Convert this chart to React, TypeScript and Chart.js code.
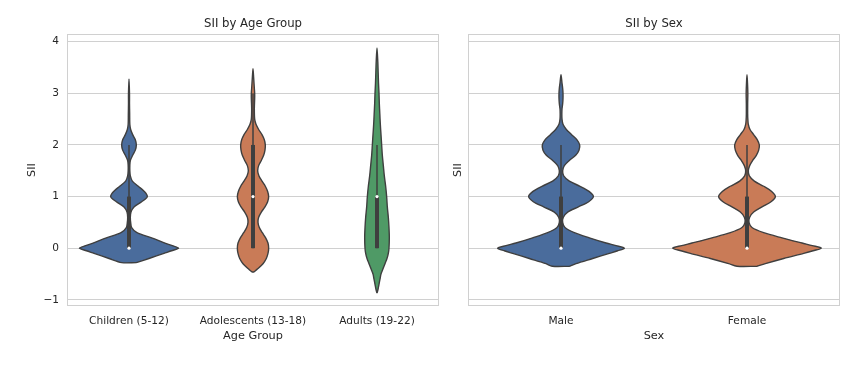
import React, { useEffect, useRef } from "react";
import { Chart, registerables } from "chart.js";
Chart.register(...registerables);

// ---------- data ----------
const ageGroups = ["Children (5-12)", "Adolescents (13-18)", "Adults (19-22)"];
const sexes = ["Male", "Female"];
const yTicks = [-1, 0, 1, 2, 3, 4];
const yTickLabels = ["−1", "0", "1", "2", "3", "4"];

// violin density profiles (SII value -> relative density)
const childrenY = [-0.28, -0.2, -0.1, -0.05, 0, 0.05, 0.1, 0.2, 0.3, 0.4, 0.5, 0.6, 0.7, 0.8, 0.9, 1.0, 1.1, 1.2, 1.3, 1.4, 1.5, 1.6, 1.7, 1.8, 1.9, 2.0, 2.1, 2.2, 2.3, 2.4, 2.6, 2.8, 3.0, 3.28];
const childrenW = [22, 60, 105, 128, 149, 130, 108, 68, 24, 8, 5, 4, 6, 15, 38, 55, 46, 28, 10, 4, 2.5, 2.5, 4, 11, 19, 22, 19, 11, 5, 2.5, 2, 1.5, 1.5, 0];

const adolescentsY = [-0.46, -0.4, -0.3, -0.2, -0.1, 0, 0.1, 0.2, 0.3, 0.4, 0.5, 0.6, 0.7, 0.8, 0.9, 1.0, 1.1, 1.2, 1.3, 1.4, 1.5, 1.6, 1.7, 1.8, 1.9, 2.0, 2.1, 2.2, 2.3, 2.4, 2.5, 2.7, 2.9, 3.0, 3.1, 3.3, 3.48];
const adolescentsW = [3, 14, 30, 40, 45, 47, 45, 38, 28, 19, 15, 17, 25, 36, 44, 47, 44, 37, 27, 18, 14, 17, 25, 32, 36, 37, 34, 27, 17, 9, 5, 4, 5, 5, 4, 2, 0];

const adultsY = [-0.87, -0.8, -0.7, -0.6, -0.5, -0.4, -0.3, -0.2, -0.1, 0, 0.2, 0.4, 0.6, 0.8, 1.0, 1.2, 1.4, 1.6, 1.8, 2.0, 2.2, 2.4, 2.6, 2.8, 3.0, 3.2, 3.4, 3.6, 3.88];
const adultsW = [0, 3, 6, 9, 12, 18, 24, 30, 34, 36, 37, 36, 34, 31, 29, 26, 22, 19, 16, 14, 12, 10, 8.5, 7, 6, 4.5, 3.5, 2.5, 0];

const maleY = [-0.35, -0.3, -0.2, -0.1, -0.05, 0, 0.05, 0.1, 0.2, 0.3, 0.4, 0.5, 0.6, 0.7, 0.8, 0.9, 1.0, 1.1, 1.2, 1.3, 1.4, 1.5, 1.6, 1.7, 1.8, 1.9, 2.0, 2.1, 2.2, 2.3, 2.4, 2.5, 2.6, 2.7, 2.8, 2.9, 3.0, 3.1, 3.2, 3.36];
const maleW = [26, 45, 95, 145, 170, 190, 165, 135, 85, 40, 12, 5, 7, 20, 52, 83, 97, 84, 57, 25, 8, 5, 10, 25, 44, 54, 56, 48, 32, 16, 6, 3, 2.5, 3, 5, 6, 6, 5, 3, 0];

const femaleY = [-0.35, -0.3, -0.2, -0.1, -0.05, 0, 0.05, 0.1, 0.2, 0.3, 0.4, 0.5, 0.6, 0.7, 0.8, 0.9, 1.0, 1.1, 1.2, 1.3, 1.4, 1.5, 1.6, 1.7, 1.8, 1.9, 2.0, 2.1, 2.2, 2.3, 2.4, 2.5, 2.6, 2.8, 3.0, 3.2, 3.36];
const femaleW = [30, 55, 110, 170, 198, 223, 196, 165, 105, 50, 15, 6, 8, 20, 45, 72, 85, 74, 50, 22, 7, 4, 8, 17, 28, 35, 37, 31, 20, 9, 4, 2.5, 2, 2, 2.5, 1.5, 0];

// box stats: [whisker low, q1, median, q3, whisker high]
const childrenBox = [0, 0, 0, 1, 2];
const adolescentsBox = [0, 0, 1, 2, 3];
const adultsBox = [0, 0, 1, 1, 2];
const maleBox = [0, 0, 0, 1, 2];
const femaleBox = [0, 0, 0, 1, 2];

// ---------- styles ----------
const BLUE = "#4A6C9C";
const ORANGE = "#C97B57";
const GREEN = "#4F9A66";
const EDGE = "#3f3f3f";
const GRID = "#d0d0d0";
const TEXT = "#262626";
const FONT = "DejaVu Sans";
const MAX_HALF = 0.4;

Chart.defaults.font.family = FONT;

function violinDatasets(center: number, ys: number[], ws: number[], scale: number, color: string, box: number[]) {
  const right = ys.map((y, i) => ({ x: center + ws[i] * scale, y }));
  const left: { x: number; y: number }[] = [];
  for (let i = ys.length - 1; i >= 0; i--) {
    if (i === ys.length - 1 && ws[i] === 0) continue;
    left.push({ x: center - ws[i] * scale, y: ys[i] });
  }
  const outline = [...right, ...left, right[0]];
  return [
    {
      data: outline,
      showLine: true,
      fill: "shape",
      backgroundColor: color,
      borderColor: EDGE,
      borderWidth: 1.4,
      pointRadius: 0,
      tension: 0.3,
      order: 10,
    },
    {
      data: [{ x: center, y: box[0] }, { x: center, y: box[4] }],
      showLine: true,
      borderColor: EDGE,
      borderWidth: 1.5,
      pointRadius: 0,
      order: 3,
    },
    {
      data: [{ x: center, y: box[1] }, { x: center, y: box[3] }],
      showLine: true,
      borderColor: EDGE,
      borderWidth: 4,
      pointRadius: 0,
      order: 2,
    },
    {
      data: [{ x: center, y: box[2] }],
      showLine: false,
      pointRadius: 1.6,
      pointBackgroundColor: "#ffffff",
      pointBorderWidth: 0,
      order: 1,
    },
  ];
}

const framePlugin = {
  id: "frame",
  beforeDatasetsDraw(chart: any) {
    const { ctx, chartArea } = chart;
    ctx.save();
    ctx.strokeStyle = GRID;
    ctx.lineWidth = 1;
    ctx.strokeRect(
      Math.round(chartArea.left) + 0.5,
      Math.round(chartArea.top) + 0.5,
      Math.round(chartArea.right - chartArea.left) - 1,
      Math.round(chartArea.bottom - chartArea.top) - 1
    );
    ctx.restore();
  },
  afterDraw(chart: any, _args: any, opts: any) {
    const { ctx, chartArea } = chart;
    ctx.save();
    ctx.fillStyle = TEXT;
    ctx.font = `11.7px "${FONT}"`;
    ctx.textAlign = "center";
    ctx.textBaseline = "middle";
    ctx.fillText(opts.title, (chartArea.left + chartArea.right) / 2, 24);
    ctx.restore();
  },
};

function makeConfig(
  categories: string[],
  datasets: any[],
  title: string,
  xTitle: string,
  showYTicks: boolean,
  yAxisWidth: number,
  yTitlePad: number,
  rightPad: number
): any {
  return {
    type: "scatter",
    data: { datasets },
    plugins: [framePlugin],
    options: {
      animation: false,
      responsive: false,
      events: [],
      layout: { padding: { top: 34, right: rightPad, bottom: 0, left: 0 } },
      plugins: {
        legend: { display: false },
        tooltip: { enabled: false },
        frame: { title },
      },
      scales: {
        x: {
          type: "linear",
          min: -0.5,
          max: categories.length - 0.5,
          afterBuildTicks: (s: any) => {
            s.ticks = categories.map((_, i) => ({ value: i }));
          },
          afterFit: (s: any) => {
            s.height = 60;
          },
          grid: { display: false, drawTicks: false },
          border: { display: false },
          ticks: {
            autoSkip: false,
            maxRotation: 0,
            padding: 9,
            color: TEXT,
            font: { size: 10.6, family: FONT },
            callback: (v: any) => categories[Math.round(v)],
          },
          title: {
            display: true,
            text: xTitle,
            color: TEXT,
            font: { size: 11.3, family: FONT },
            padding: { top: 0, bottom: 23.2 },
          },
        },
        y: {
          type: "linear",
          min: -1.12,
          max: 4.15,
          afterBuildTicks: (s: any) => {
            s.ticks = yTicks.map((v) => ({ value: v }));
          },
          afterFit: (s: any) => {
            s.width = yAxisWidth;
          },
          grid: { color: GRID, lineWidth: 1, drawTicks: false },
          border: { display: false },
          ticks: {
            display: showYTicks,
            padding: 8,
            color: TEXT,
            font: { size: 10.6, family: FONT },
            callback: (v: any) => yTickLabels[yTicks.indexOf(Math.round(v))],
          },
          title: {
            display: true,
            text: "SII",
            color: TEXT,
            font: { size: 11.3, family: FONT },
            padding: { top: yTitlePad, bottom: 0 },
          },
        },
      },
    },
  };
}

function maxOf(arrs: number[][]) {
  return Math.max(...arrs.map((a) => Math.max(...a)));
}

export default function App() {
  const leftRef = useRef<HTMLCanvasElement>(null);
  const rightRef = useRef<HTMLCanvasElement>(null);

  useEffect(() => {
    const leftScale = MAX_HALF / maxOf([childrenW, adolescentsW, adultsW]);
    const rightScale = MAX_HALF / maxOf([maleW, femaleW]);

    const leftDatasets = [
      ...violinDatasets(0, childrenY, childrenW, leftScale, BLUE, childrenBox),
      ...violinDatasets(1, adolescentsY, adolescentsW, leftScale, ORANGE, adolescentsBox),
      ...violinDatasets(2, adultsY, adultsW, leftScale, GREEN, adultsBox),
    ];
    const rightDatasets = [
      ...violinDatasets(0, maleY, maleW, rightScale, BLUE, maleBox),
      ...violinDatasets(1, femaleY, femaleW, rightScale, ORANGE, femaleBox),
    ];

    const c1 = new Chart(
      leftRef.current!,
      makeConfig(ageGroups, leftDatasets, "SII by Age Group", "Age Group", true, 67, 25.2, 11)
    );
    const c2 = new Chart(
      rightRef.current!,
      makeConfig(sexes, rightDatasets, "SII by Sex", "Sex", false, 28, 11.2, 17)
    );
    return () => {
      c1.destroy();
      c2.destroy();
    };
  }, []);

  return (
    <div style={{ position: "absolute", left: 0, top: 0, width: 857, height: 366, background: "#fff" }}>
      <canvas
        ref={leftRef}
        width={450}
        height={366}
        style={{ position: "absolute", left: 0, top: 0, width: 450, height: 366 }}
      />
      <canvas
        ref={rightRef}
        width={417}
        height={366}
        style={{ position: "absolute", left: 440, top: 0, width: 417, height: 366 }}
      />
    </div>
  );
}
